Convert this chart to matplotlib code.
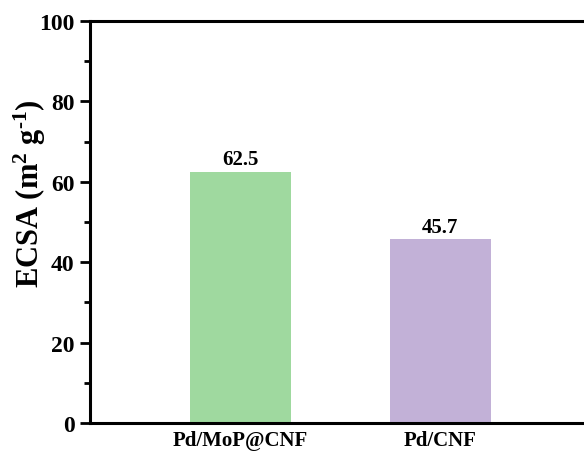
import matplotlib
matplotlib.use("Agg")
import matplotlib.pyplot as plt
from matplotlib.ticker import MultipleLocator

categories = ["Pd/MoP@CNF", "Pd/CNF"]
ecsa = [62.5, 45.7]
colors = ["#9fd99f", "#c2b1d7"]

plt.rcParams["font.family"] = ["Liberation Serif", "DejaVu Serif"]
plt.rcParams["font.weight"] = "bold"
plt.rcParams["mathtext.fontset"] = "custom"
plt.rcParams["mathtext.rm"] = "Liberation Serif:bold"
plt.rcParams["mathtext.bf"] = "Liberation Serif:bold"
plt.rcParams["mathtext.default"] = "bf"

fig = plt.figure(figsize=(5.84, 4.56), dpi=100)
ax = fig.add_axes([90 / 584, 32 / 456, 500 / 584, 402 / 456])

x = [1, 2]
ax.bar(x, ecsa, width=0.505, color=colors)
for xi, v in zip(x, ecsa):
    ax.text(xi, v + 0.6, f"{v}", ha="center", va="bottom", fontsize=15, fontweight="bold")

ax.set_xlim(0.25, 2.75)
ax.set_ylim(0, 100)
ax.set_xticks(x)
ax.set_xticklabels(categories, fontsize=15, fontweight="bold")
ax.yaxis.set_major_locator(MultipleLocator(20))
ax.yaxis.set_minor_locator(MultipleLocator(10))
ax.tick_params(axis="y", which="major", length=7, width=2, labelsize=17, direction="out", pad=4)
ax.tick_params(axis="y", which="minor", length=4, width=2, direction="out")
ax.tick_params(axis="x", length=0, labelsize=15, pad=5)
for lbl in ax.get_yticklabels():
    lbl.set_fontweight("bold")
for s in ax.spines.values():
    s.set_linewidth(2.2)

ax.set_ylabel(r"ECSA (m$^{2}$ g$^{\text{-}1}$)", fontsize=22, fontweight="bold")
ax.yaxis.set_label_coords(-0.084, 0.572)

fig.savefig("out.png", dpi=100)
